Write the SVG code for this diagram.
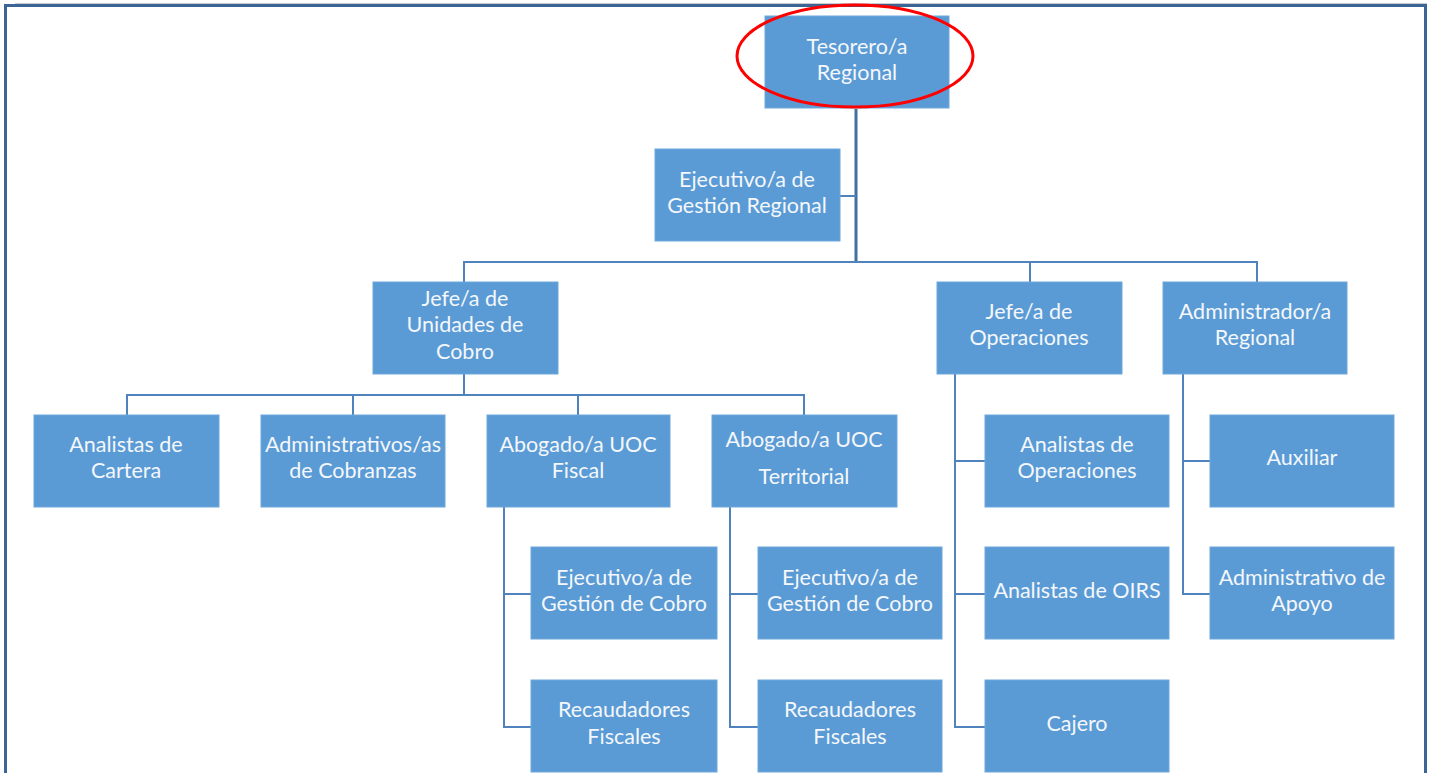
<svg xmlns="http://www.w3.org/2000/svg" width="1431" height="773" viewBox="0 0 1431 773">
<style>
.box{fill:#5B9BD5;stroke:#6FA7DB;stroke-width:1}
.t{font-family:Lato,"Open Sans",sans-serif;font-size:21.5px;fill:#F4F7FB;text-anchor:middle}
.c{fill:none;stroke:#5082BE;stroke-width:2}
.cm{fill:none;stroke:#41719C;stroke-width:3}
</style>
<rect width="1431" height="773" fill="#FFFFFF"/>
<g id="frame">
<line x1="15" y1="3.5" x2="1427" y2="3.5" stroke="#C8CCD2" stroke-width="1"/>
<path d="M5.5 773 V5.5 H1425.5 V773" fill="none" stroke="#3A6594" stroke-width="3"/>
</g>
<g id="connectors">
<path class="cm" d="M856 109 V262"/>
<path class="c" d="M840 196 H856"/>
<path class="c" d="M464 282 V262 H1257 V282 M1030 262 V282"/>
<path class="c" d="M464 374 V395 M127 415 V395 H804 V415 M353 395 V415 M578 395 V415"/>
<path class="c" d="M504 507 V727 H531 M504 594 H531"/>
<path class="c" d="M730 507 V727 H758 M730 594 H758"/>
<path class="c" d="M955 374 V727 H985 M955 461 H985 M955 594 H985"/>
<path class="c" d="M1183 374 V594 H1210 M1183 461 H1210"/>
</g>
<g id="tesorero">
<rect class="box" x="765" y="16" width="184" height="92"/>
<text class="t" x="857" y="54">Tesorero/a</text>
<text class="t" x="857" y="80">Regional</text>
<ellipse cx="855" cy="56" rx="118" ry="51" fill="none" stroke="#FF0000" stroke-width="3"/>
</g>
<g id="ejecutivo-gestion-regional">
<rect class="box" x="655" y="149" width="185" height="92"/>
<text class="t" x="747" y="187">Ejecutivo/a de</text>
<text class="t" x="747" y="213">Gestión Regional</text>
</g>
<g id="jefe-unidades-cobro">
<rect class="box" x="373" y="282" width="185" height="92"/>
<text class="t" x="465" y="306">Jefe/a de</text>
<text class="t" x="465" y="332">Unidades de</text>
<text class="t" x="465" y="359">Cobro</text>
</g>
<g id="jefe-operaciones">
<rect class="box" x="937" y="282" width="185" height="92"/>
<text class="t" x="1029" y="319">Jefe/a de</text>
<text class="t" x="1029" y="345">Operaciones</text>
</g>
<g id="administrador-regional">
<rect class="box" x="1163" y="282" width="184" height="92"/>
<text class="t" x="1255" y="319">Administrador/a</text>
<text class="t" x="1255" y="345">Regional</text>
</g>
<g id="analistas-cartera">
<rect class="box" x="34" y="415" width="185" height="92"/>
<text class="t" x="126" y="452">Analistas de</text>
<text class="t" x="126" y="478">Cartera</text>
</g>
<g id="administrativos-cobranzas">
<rect class="box" x="261" y="415" width="184" height="92"/>
<text class="t" x="353" y="452">Administrativos/as</text>
<text class="t" x="353" y="478">de Cobranzas</text>
</g>
<g id="abogado-fiscal">
<rect class="box" x="487" y="415" width="183" height="92"/>
<text class="t" x="578" y="452">Abogado/a UOC</text>
<text class="t" x="578" y="478">Fiscal</text>
</g>
<g id="abogado-territorial">
<rect class="box" x="712" y="415" width="185" height="92"/>
<text class="t" x="804" y="447">Abogado/a UOC</text>
<text class="t" x="804" y="484">Territorial</text>
</g>
<g id="ejecutivo-cobro-fiscal">
<rect class="box" x="531" y="547" width="186" height="92"/>
<text class="t" x="624" y="585">Ejecutivo/a de</text>
<text class="t" x="624" y="611">Gestión de Cobro</text>
</g>
<g id="recaudadores-fiscal">
<rect class="box" x="531" y="680" width="186" height="92"/>
<text class="t" x="624" y="717">Recaudadores</text>
<text class="t" x="624" y="744">Fiscales</text>
</g>
<g id="ejecutivo-cobro-territorial">
<rect class="box" x="758" y="547" width="184" height="92"/>
<text class="t" x="850" y="585">Ejecutivo/a de</text>
<text class="t" x="850" y="611">Gestión de Cobro</text>
</g>
<g id="recaudadores-territorial">
<rect class="box" x="758" y="680" width="184" height="92"/>
<text class="t" x="850" y="717">Recaudadores</text>
<text class="t" x="850" y="744">Fiscales</text>
</g>
<g id="analistas-operaciones">
<rect class="box" x="985" y="415" width="184" height="92"/>
<text class="t" x="1077" y="452">Analistas de</text>
<text class="t" x="1077" y="478">Operaciones</text>
</g>
<g id="analistas-oirs">
<rect class="box" x="985" y="547" width="184" height="92"/>
<text class="t" x="1077" y="598">Analistas de OIRS</text>
</g>
<g id="cajero">
<rect class="box" x="985" y="680" width="184" height="92"/>
<text class="t" x="1077" y="731">Cajero</text>
</g>
<g id="auxiliar">
<rect class="box" x="1210" y="415" width="184" height="92"/>
<text class="t" x="1302" y="465">Auxiliar</text>
</g>
<g id="administrativo-apoyo">
<rect class="box" x="1210" y="547" width="184" height="92"/>
<text class="t" x="1302" y="585">Administrativo de</text>
<text class="t" x="1302" y="611">Apoyo</text>
</g>
</svg>
